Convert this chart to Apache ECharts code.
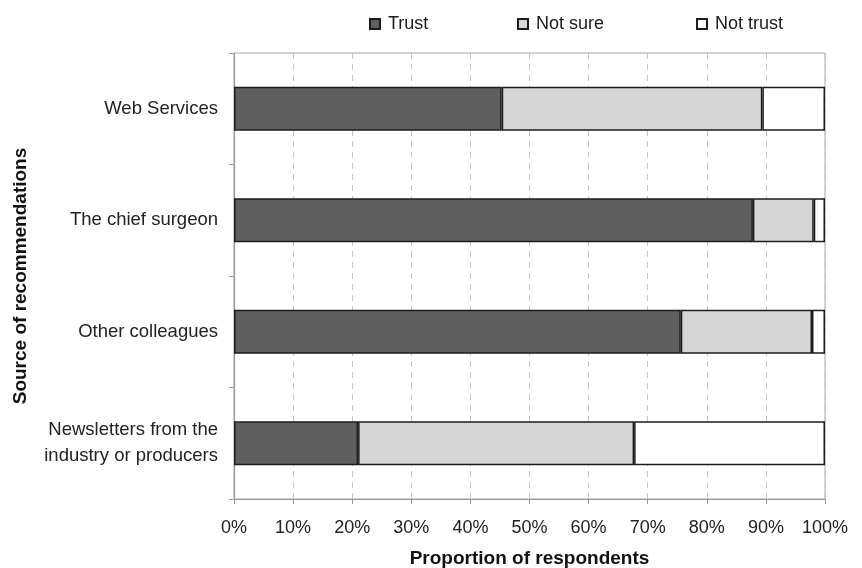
<!DOCTYPE html>
<html>
<head>
<meta charset="utf-8">
<script src="https://cdn.jsdelivr.net/npm/echarts@6/dist/echarts.min.js"></script>
<style>
  html, body { margin: 0; padding: 0; background: #fff; }
  #chart { width: 862px; height: 568px; }
</style>
</head>
<body>
<div id="chart"></div>
<script>
// Sources of recommendations, listed top to bottom
const categories = [
  'Web Services',
  'The chief surgeon',
  'Other colleagues',
  'Newsletters from the\nindustry or producers'
];
// Share of respondents (%) per answer
const trustValues    = [45.3, 87.8, 75.6, 21.0];
const notSureValues  = [44.1, 10.3, 22.2, 46.7];
const notTrustValues = [10.6, 1.9, 2.2, 32.3];
const seriesNames = ['Trust', 'Not sure', 'Not trust'];
const seriesColors = ['#5f5f5f', '#d6d6d6', '#ffffff'];
const xTicks = [0, 10, 20, 30, 40, 50, 60, 70, 80, 90, 100];

const font = 'Liberation Sans, Arial, sans-serif';
const chart = echarts.init(document.getElementById('chart'), null, { renderer: 'canvas' });

const valueSets = [trustValues, notSureValues, notTrustValues];
const series = seriesNames.map((name, i) => ({
  name: name,
  type: 'bar',
  stack: 'total',
  barWidth: 44,
  data: valueSets[i],
  itemStyle: { color: seriesColors[i], borderColor: '#1c1c1c', borderWidth: 1.5 },
  emphasis: { disabled: true },
  animation: false
}));

// one legend per entry so each sits at its own spot along the top
const legendLefts = [364, 512, 691];
const legends = seriesNames.map((name, i) => ({
  data: [name],
  left: legendLefts[i],
  top: 10,
  icon: 'rect',
  itemWidth: 10,
  itemHeight: 10,
  itemGap: 0,
  textStyle: { fontFamily: font, fontSize: 18, color: '#1a1a1a', padding: [0, 0, 0, 3] },
  selectedMode: false
}));

chart.setOption({
  backgroundColor: '#ffffff',
  animation: false,
  legend: legends,
  grid: {
    left: 234, right: 37, top: 53, bottom: 69,
    outerBoundsMode: 'none',
    show: true, borderColor: '#a8a8a8', borderWidth: 1, backgroundColor: 'transparent'
  },
  xAxis: {
    type: 'value',
    min: xTicks[0],
    max: xTicks[xTicks.length - 1],
    interval: xTicks[1] - xTicks[0],
    name: 'Proportion of respondents',
    nameLocation: 'middle',
    nameGap: 50,
    nameTextStyle: { fontFamily: font, fontSize: 19, fontWeight: 'bold', color: '#111' },
    axisLine: { show: true, lineStyle: { color: '#999', width: 1.2 } },
    axisTick: { show: true, length: 5, lineStyle: { color: '#999' } },
    axisLabel: {
      fontFamily: font, fontSize: 18, color: '#222', margin: 20,
      formatter: v => v + '%'
    },
    splitLine: { show: true, lineStyle: { color: '#c4c4c4', type: [6, 5], width: 1 } }
  },
  yAxis: {
    type: 'category',
    inverse: true,
    data: categories,
    name: 'Source of recommendations',
    nameLocation: 'middle',
    nameGap: 204,
    nameTextStyle: { fontFamily: font, fontSize: 19, fontWeight: 'bold', color: '#111' },
    axisLine: { show: true, lineStyle: { color: '#999', width: 1.2 } },
    axisTick: { show: true, length: 5, lineStyle: { color: '#999' } },
    axisLabel: {
      fontFamily: font, fontSize: 18.5, color: '#222', margin: 16,
      lineHeight: 26, align: 'right'
    },
    splitLine: { show: false }
  },
  series: series
});
</script>
</body>
</html>
